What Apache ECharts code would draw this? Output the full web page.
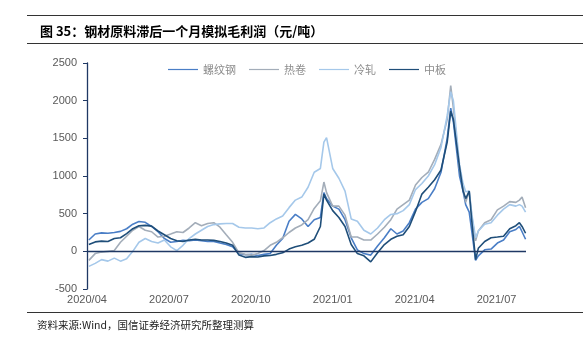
<!DOCTYPE html>
<html><head><meta charset="utf-8">
<script src="https://cdn.jsdelivr.net/npm/echarts@6/dist/echarts.min.js"></script>
<style>html,body{margin:0;padding:0;background:#fff}#c{width:585px;height:341px}</style>
</head><body><div id="c"></div>
<script>
const dates = ['2020-04-03','2020-04-10','2020-04-17','2020-04-24','2020-05-01','2020-05-08','2020-05-15','2020-05-22','2020-05-29','2020-06-05','2020-06-12','2020-06-19','2020-06-26','2020-07-03','2020-07-10','2020-07-17','2020-07-24','2020-07-31','2020-08-07','2020-08-14','2020-08-21','2020-08-28','2020-09-04','2020-09-11','2020-09-18','2020-09-25','2020-10-02','2020-10-09','2020-10-16','2020-10-23','2020-10-30','2020-11-06','2020-11-13','2020-11-20','2020-11-27','2020-12-04','2020-12-11','2020-12-18','2020-12-22','2020-12-25','2021-01-01','2021-01-08','2021-01-15','2021-01-22','2021-01-29','2021-02-05','2021-02-12','2021-02-19','2021-02-26','2021-03-05','2021-03-12','2021-03-19','2021-03-26','2021-04-02','2021-04-09','2021-04-16','2021-04-23','2021-04-30','2021-05-07','2021-05-11','2021-05-14','2021-05-21','2021-05-25','2021-05-28','2021-06-01','2021-06-04','2021-06-08','2021-06-11','2021-06-18','2021-06-25','2021-07-02','2021-07-09','2021-07-16','2021-07-23','2021-07-27','2021-07-30','2021-08-03'];
const rebar = [150,230,245,240,250,265,300,360,395,385,330,260,170,120,130,145,140,150,140,130,130,110,90,60,-30,-45,-40,-55,-40,-30,80,170,400,490,430,330,420,450,780,700,600,560,420,180,20,-30,-50,70,180,300,230,270,380,560,650,700,830,1050,1500,1900,1720,1000,800,620,520,250,-120,-60,20,30,110,150,260,290,330,260,160];
const hotRoll = [-120,-30,-10,0,10,120,200,280,330,280,260,190,200,230,260,250,310,380,340,370,380,320,220,120,-20,-40,-50,-30,10,80,120,180,250,310,350,420,570,670,920,780,600,600,480,190,190,150,150,230,320,420,560,620,680,880,980,1050,1220,1420,1750,2200,1900,1100,850,650,800,450,140,270,380,420,550,600,660,650,680,720,580];
const coldRoll = [-200,-160,-110,-130,-90,-130,-100,0,120,170,130,110,150,60,10,80,170,230,280,330,355,365,370,370,320,310,310,300,310,380,430,470,580,680,720,850,1050,1100,1450,1510,1100,970,800,430,400,280,230,310,420,490,500,540,620,820,900,1000,1150,1380,1800,2120,2000,1150,900,790,800,480,180,270,360,380,480,560,620,600,620,600,520];
const plate = [90,125,135,130,170,180,235,300,340,345,335,270,220,170,140,130,150,160,150,150,145,130,110,80,-50,-80,-70,-75,-60,-55,-40,-20,30,60,80,110,160,330,760,680,540,450,330,90,-30,-60,-140,-20,90,160,200,220,330,530,760,850,950,1080,1450,1860,1750,1120,800,700,800,380,-110,40,130,180,190,200,300,340,380,330,240];
const seriesNames = ['螺纹钢','热卷','冷轧','中板'];
const seriesColors = ['#4a7ec6','#a3adb9','#a5c8ea','#1f4e79'];
const xTickLabels = ['2020/04','2020/07','2020/10','2021/01','2021/04','2021/07'];

function monthIndex(s){
  const [y,m,d] = s.split('-').map(Number);
  const dim = new Date(y, m, 0).getDate();
  return (y-2020)*12 + (m-4) + (d-1)/dim;
}
const xs = dates.map(monthIndex);
const all = [rebar, hotRoll, coldRoll, plate];
const chart = echarts.init(document.getElementById('c'), null, {renderer:'canvas'});
const series = all.map((arr,i)=>({
  name: seriesNames[i], type:'line', symbol:'none', smooth:false,
  data: arr.map((v,k)=>[xs[k], v]),
  lineStyle:{width:1.6, color:seriesColors[i]}, itemStyle:{color:seriesColors[i]},
  z: 2+i
}));
series[0].markLine = {silent:true, symbol:['none','none'], label:{show:false},
  lineStyle:{color:'#1f3864', width:1.3, type:'solid'}, data:[{yAxis:0}], z:10};
chart.setOption({
  animation:false,
  title:{text:'图 35：钢材原料滞后一个月模拟毛利润（元/吨）', left:35, top:20,
    textStyle:{fontFamily:'Noto Sans CJK SC', fontSize:13, fontWeight:'bold', color:'#000'}},
  legend:{top:59, left:163, itemWidth:30, itemHeight:10, itemGap:13,
    data: seriesNames.map((n,i)=>({name:n, icon:'path://M0,4.4L30,4.4L30,5.6L0,5.6Z'})),
    textStyle:{fontFamily:'Noto Sans CJK SC', fontSize:11, color:'#8c8c8c'}},
  grid:{left:87, right:59, top:63, bottom:52, containLabel:false},
  xAxis:{type:'value', min:0, max:16.08, interval:3,
    axisLine:{show:false}, axisTick:{show:false}, splitLine:{show:false},
    axisLabel:{showMaxLabel:false, margin:5, color:'#595959', fontFamily:'Liberation Sans', fontSize:11,
      formatter:v=>{const k=Math.round(v/3); return xTickLabels[k]||'';}}},
  yAxis:{type:'value', min:-500, max:2500, interval:500,
    axisLine:{show:true, lineStyle:{color:'#1f3864', width:1.3}},
    axisTick:{show:true, length:4, lineStyle:{color:'#1f3864'}},
    splitLine:{show:false},
    axisLabel:{margin:10, color:'#595959', fontFamily:'Liberation Sans', fontSize:11, formatter:v=>String(v)}},
  graphic:[
    {type:'line', shape:{x1:27,y1:15.5,x2:583,y2:15.5}, style:{stroke:'#333', lineWidth:1}},
    {type:'line', shape:{x1:27,y1:43.5,x2:583,y2:43.5}, style:{stroke:'#333', lineWidth:1}},
    {type:'line', shape:{x1:27,y1:312.5,x2:583,y2:312.5}, style:{stroke:'#333', lineWidth:1}},
    {type:'text', left:37, top:320, style:{text:'资料来源:Wind，国信证券经济研究所整理测算', font:'10.5px "Noto Sans CJK SC"', fill:'#222'}}
  ],
  series: series
});
</script></body></html>
